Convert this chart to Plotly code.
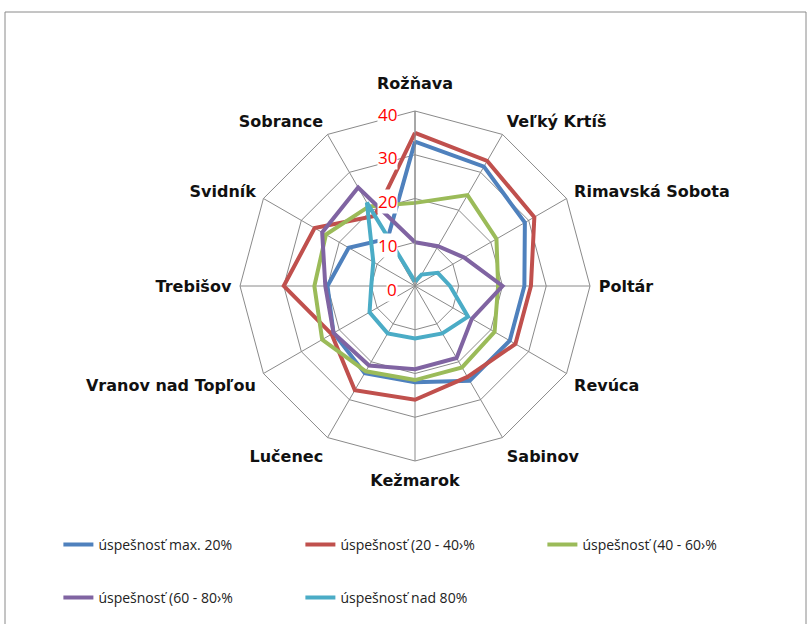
import plotly.graph_objects as go

# Districts around the radar, clockwise from the top
districts = ["Rožňava", "Veľký Krtíš", "Rimavská Sobota", "Poltár", "Revúca",
             "Sabinov", "Kežmarok", "Lučenec", "Vranov nad Topľou", "Trebišov",
             "Svidník", "Sobrance"]

# Share of pupils in each success band, per district
max_20 = [33, 31.5, 29, 25, 25, 25, 22, 23, 21.5, 20, 17.5, 12.5]
band_20_40 = [35, 33, 31.5, 26.5, 26.5, 24, 26, 27.5, 22, 30, 26.5, 18.5]
band_40_60 = [19, 24, 21.5, 19, 21, 21.5, 21.5, 22.5, 24.5, 23, 23.5, 21]
band_60_80 = [10, 10.5, 13, 20, 15, 19, 19, 21, 21.5, 20.5, 24.5, 26]
over_80 = [1, 3, 6, 8, 14, 12.5, 12, 12.5, 12, 10, 11, 22]

series_names = ["úspešnosť max. 20%", "úspešnosť (20 - 40›%", "úspešnosť (40 - 60›%",
                "úspešnosť (60 - 80›%", "úspešnosť nad 80%"]
series_values = [max_20, band_20_40, band_40_60, band_60_80, over_80]
series_colors = ["#4F81BD", "#C0504D", "#9BBB59", "#8064A2", "#4BACC6"]
series_legend = ["legend", "legend", "legend", "legend2", "legend2"]

radial_ticks = [0, 10, 20, 30, 40]

W, H = 811, 624
CX, CY, R = 415, 286, 175  # centre and outer radius of the radar, px

fig = go.Figure()
for name, vals, col, leg in zip(series_names, series_values, series_colors, series_legend):
    fig.add_trace(go.Scatterpolar(
        r=vals + vals[:1], theta=districts + districts[:1],
        mode="lines", name=name, legend=leg,
        line=dict(color=col, width=4),
    ))

grid = "#8a8a8a"
label_font = dict(family="DejaVu Sans", size=16, color="#111111", weight="bold")
legend_style = dict(
    orientation="h", x=0.072, xanchor="left", yanchor="middle",
    entrywidth=197, entrywidthmode="pixels",
    font=dict(family="Open Sans", size=14, color="#222222"),
    bgcolor="rgba(0,0,0,0)",
)
# The top district is labelled separately so it sits clear of the "40" tick
angular_text = [""] + districts[1:]

fig.update_layout(
    width=W, height=H,
    margin=dict(l=0, r=0, t=0, b=0),
    paper_bgcolor="white",
    polar=dict(
        domain=dict(x=[(CX - R) / W, (CX + R) / W], y=[1 - (CY + R) / H, 1 - (CY - R) / H]),
        gridshape="linear",
        bgcolor="white",
        angularaxis=dict(
            direction="clockwise", rotation=90,
            tickmode="array", tickvals=districts, ticktext=angular_text,
            showline=True, linecolor=grid, linewidth=1,
            gridcolor=grid, gridwidth=1,
            ticks="outside", ticklen=5, tickcolor="rgba(0,0,0,0)",
            tickfont=label_font,
        ),
        radialaxis=dict(
            range=[0, 40], tickvals=radial_ticks, showticklabels=False,
            showline=True, linecolor=grid, linewidth=1, angle=90,
            gridcolor=grid, gridwidth=1, ticks="",
        ),
    ),
    legend=dict(legend_style, y=1 - 545 / H),
    legend2=dict(legend_style, y=1 - 598 / H),
    shapes=[dict(type="rect", xref="paper", yref="paper",
                 x0=5 / W, x1=806 / W, y0=-0.05, y1=1 - 12 / H,
                 line=dict(color="#8a8a8a", width=1), layer="below")],
)

fig.add_annotation(
    x=CX / W, y=1 - (CY - R - 16) / H, xref="paper", yref="paper",
    text=districts[0], showarrow=False, xanchor="center", yanchor="bottom",
    font=label_font,
)

# Radial tick labels on white chips, left of the vertical axis
for t in radial_ticks:
    py = CY - R * t / radial_ticks[-1] + 3
    fig.add_annotation(
        x=(CX - 17) / W, y=1 - py / H, xref="paper", yref="paper",
        text=str(t), showarrow=False, xanchor="right", yanchor="middle",
        font=dict(family="Open Sans", size=17, color="#FF0000"),
        bgcolor="white", borderpad=0,
    )

fig.write_html("out.html")
